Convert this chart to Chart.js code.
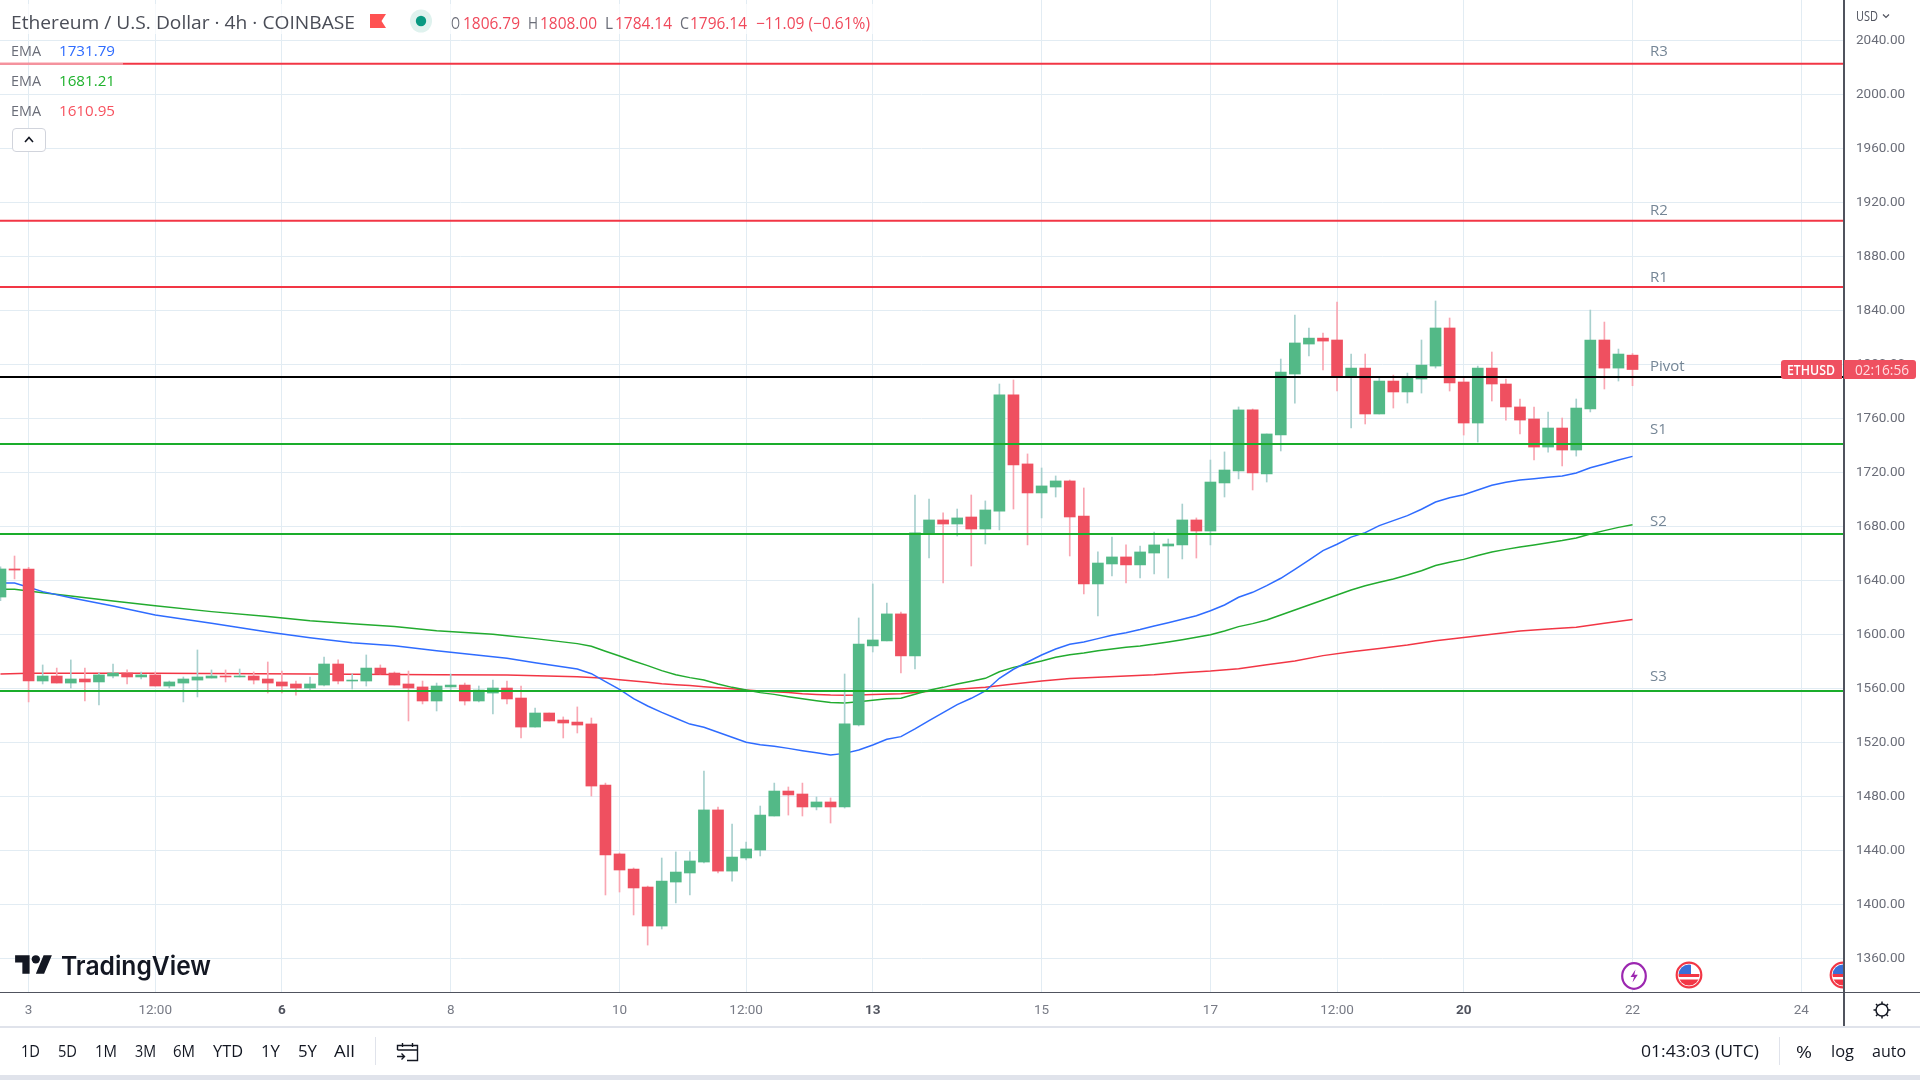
<!DOCTYPE html>
<html><head><meta charset="utf-8">
<title>Ethereum / U.S. Dollar 4h</title>
<script src="https://cdn.jsdelivr.net/npm/chart.js@4"></script>
<style>
html,body{margin:0;padding:0;background:#fff;width:1920px;height:1080px;overflow:hidden}
#c{position:absolute;left:0;top:0}
#ov{position:absolute;left:0;top:0;width:1920px;height:1080px;overflow:hidden;font-family:"Open Sans",sans-serif}
.t{position:absolute;white-space:pre;transform-origin:0 50%;line-height:1}
.b{position:absolute}
svg{position:absolute;overflow:hidden}
</style></head><body>
<canvas id="c" width="1920" height="1080"></canvas>
<div id="ov"></div>
<script>
const candleIndex=[-2,-1,0,1,2,3,4,5,6,7,8,9,10,11,12,13,14,15,16,17,18,19,20,21,22,23,24,25,26,27,28,29,30,31,32,33,34,35,36,37,38,39,40,41,42,43,44,45,46,47,48,49,50,51,52,53,54,55,56,57,58,59,60,61,62,63,64,65,66,67,68,69,70,71,72,73,74,75,76,77,78,79,80,81,82,83,84,85,86,87,88,89,90,91,92,93,94,95,96,97,98,99,100,101,102,103,104,105,106,107,108,109,110,111,112,113,114];
const open=[1627.6,1648.4,1648.4,1565.4,1569.1,1563.9,1566.9,1564.7,1569.1,1571.3,1568.4,1569.9,1561.7,1563.9,1566.1,1567.6,1569.1,1568.4,1569.1,1566.9,1564.7,1563.2,1560.2,1562.4,1578,1565.4,1565.4,1575,1571.3,1563.2,1561,1550.6,1561,1562.4,1550.6,1556.5,1560.2,1552.8,1531.3,1541.7,1536.5,1535,1533.6,1488.4,1437.3,1426.1,1412.8,1383.9,1416.5,1423.2,1431.3,1469.9,1424.6,1434.3,1440.2,1465.4,1483.9,1481.7,1472.1,1475.8,1472.1,1532.8,1591.4,1595.1,1615.1,1584,1675.1,1684.7,1681.7,1686.9,1678,1691.3,1777.3,1726.2,1704.7,1709.1,1713.6,1687.6,1637.3,1652.1,1657.3,1651.4,1660.2,1665.4,1666.2,1684.7,1676.5,1712.1,1721,1766.2,1718.8,1747.6,1792.8,1815,1819.4,1818,1791.3,1797.2,1763.2,1787.6,1779.5,1789.1,1798.7,1826.9,1786.9,1756.5,1797.2,1785.4,1768.4,1759.5,1738.7,1752.8,1736.5,1766.9,1818,1797.2,1806.79];
const high=[1650,1658,1649.6,1577.3,1575,1581,1575,1571.3,1578,1573.6,1572.1,1572.1,1565.4,1568.4,1588.4,1573.6,1573.6,1574.3,1572.1,1579.5,1572.8,1565.4,1568.4,1583.2,1581,1570.6,1584.7,1577.3,1572.1,1572.8,1565.4,1563.9,1570.6,1563.9,1561.7,1566.1,1565.4,1561.7,1545.4,1541.7,1538.8,1546.2,1538,1489.8,1438,1426.9,1413.5,1434.3,1438.8,1438.8,1498.7,1472.1,1459.5,1446.1,1472.8,1489.8,1486.9,1489.8,1479.5,1478.8,1570.6,1612.1,1637.3,1623.2,1616.5,1703.2,1700.2,1689.9,1692.8,1703.2,1698.8,1785.4,1788.4,1733.6,1723.2,1717.3,1714.3,1708.4,1661,1672.1,1666.2,1665.4,1675.8,1670.6,1696.5,1686.2,1729.1,1735.1,1768.4,1766.9,1748.4,1803.9,1836.5,1826.9,1823.1,1846.1,1807.6,1807.6,1789.9,1792,1793.5,1818,1846.9,1834.3,1789.9,1798.7,1809.1,1789.1,1774.3,1768.4,1764.7,1760.2,1774.3,1840.2,1831.3,1811.3,1808];
const low=[1625,1641,1549.9,1563.2,1563.9,1560.2,1550.6,1547.6,1567.6,1563.2,1566.9,1561.7,1560.2,1549.9,1553.6,1567.6,1564.7,1568.4,1563.2,1556.5,1556.5,1555,1558.7,1561.7,1563.2,1559.5,1561.7,1570.6,1562.4,1535.8,1548.4,1543.2,1558.7,1547.6,1549.9,1541,1548.4,1523.2,1531.3,1535.8,1523.2,1526.9,1480.2,1406.9,1409.1,1392.1,1369.8,1381.7,1401,1406.9,1430.6,1423.2,1417.2,1432.8,1435.8,1465.4,1466.1,1465.4,1469.9,1460.2,1471.3,1532.1,1586.9,1595.1,1571.4,1574.3,1656.5,1638,1672.8,1650.6,1666.9,1677.3,1692.8,1666.2,1686.2,1701.7,1658,1629.9,1613.6,1643.2,1638,1641.7,1644.7,1641.7,1655.8,1656.5,1666.2,1701.7,1715.1,1706.9,1712.8,1735.8,1771.3,1806.2,1795.8,1780.2,1752.8,1755.8,1763.2,1767.6,1771.3,1778.7,1797.2,1780.2,1747.6,1742.4,1772.8,1758.7,1748.4,1729.1,1735,1724.7,1732,1764.7,1781.7,1787.6,1784.14];
const close=[1648.4,1647.6,1565.4,1569.1,1563.9,1566.9,1564.7,1569.9,1571.3,1568.4,1569.9,1561.7,1564.7,1566.9,1568.4,1569.1,1568.4,1569.1,1566.1,1563.9,1561.7,1560.2,1563.2,1578,1565.4,1566.1,1575,1570.6,1562.4,1560.2,1550.6,1561.7,1562.4,1550.6,1558.7,1560.2,1552.1,1531.3,1541.7,1535.8,1534.3,1532.8,1487.6,1436.5,1425.4,1412.1,1383.9,1417.2,1423.9,1432.1,1469.9,1424.6,1435,1441,1466.1,1483.9,1481,1472.1,1475.8,1472.1,1533.6,1592.8,1595.8,1615.1,1584,1675.1,1684.7,1681.7,1686.2,1678,1692.1,1777.3,1725.4,1704.7,1709.9,1713.6,1686.9,1637.3,1652.8,1657.3,1651.4,1661,1666.2,1666.9,1684.7,1676.5,1712.8,1721.7,1766.2,1719.5,1748.4,1794.3,1815.8,1819.4,1817.2,1791.3,1797.2,1763.2,1787.6,1779.5,1789.9,1799.4,1826.9,1786.2,1756.5,1797.2,1785.4,1768.4,1758.7,1738.7,1752.8,1736.5,1767.6,1818,1797.2,1807.6,1796.14];

const emaBlueIndex=[-2,-1,0,1,3,6,9,13,17,20,23,26,29,33,34,36,39,40,41,42,43,44,45,46,47,48,49,50,51,52,53,54,55,56,57,58,59,60,61,62,63,64,65,66,67,68,69,70,71,72,73,74,75,76,77,78,79,80,81,82,83,84,85,86,87,88,89,90,91,92,93,94,95,96,97,98,99,100,101,102,103,104,105,106,107,108,109,110,111,112,113,114];
const emaBlue=[1638,1638,1634.8,1631.6,1627.1,1620.9,1614.3,1608.1,1601.7,1597.5,1593.8,1591.6,1587.9,1583.4,1582.2,1579,1574.3,1570.8,1564.9,1559.2,1552.3,1546.9,1542.2,1537.8,1533.5,1531.2,1527.4,1523.7,1520,1518.2,1517,1515.5,1513.8,1512.3,1510.6,1511.8,1514.3,1518,1522.2,1524.2,1529.9,1536,1542,1547.9,1552.6,1558,1567.4,1574.1,1579.5,1584.7,1589.1,1592.6,1594.3,1596.8,1599.3,1601.2,1603.5,1606.2,1608.6,1611.1,1613.8,1617.5,1621.7,1627.4,1631.1,1636,1641.5,1648.1,1655,1662,1666.7,1672,1675.3,1680.5,1684.2,1687.9,1692.6,1698,1701.2,1703.4,1706.9,1710.4,1712.6,1714.3,1715.3,1716.3,1717.3,1719.5,1723.4,1726.1,1729.1,1731.79];
const emaGreenIndex=[-2,-1,1,3,6,9,13,17,20,23,26,29,33,34,36,39,40,41,42,43,44,45,46,47,48,49,50,51,52,53,54,55,56,57,58,59,60,61,62,63,64,65,66,67,68,69,70,71,72,73,74,75,76,77,78,79,80,81,82,83,84,85,86,87,88,89,90,91,92,94,95,96,97,98,99,100,101,102,103,104,105,106,107,108,109,110,111,112,113,114];
const emaGreen=[1633.3,1633.3,1630.8,1628.4,1624.7,1621.2,1616.8,1613.1,1610.1,1607.9,1605.7,1602.7,1600,1599,1596.8,1593.1,1591.1,1587.4,1583.9,1580.2,1576.8,1573.1,1570.1,1567.9,1566.2,1563.2,1560.7,1558.7,1556.8,1555.5,1553.8,1552.3,1550.8,1549.4,1549.1,1550.1,1551.1,1552.3,1552.6,1555.6,1558.5,1560.7,1563.2,1565.2,1567.4,1572.3,1575.5,1577.8,1580.2,1583,1584.9,1586.2,1587.9,1589.1,1590.4,1591.4,1592.8,1594.3,1596,1597.8,1599.7,1602.5,1605.7,1607.9,1610.6,1614.3,1618,1621.7,1625.4,1632.8,1636,1638.5,1641,1643.9,1647.1,1650.9,1653.3,1655.5,1658.3,1661,1662.9,1664.7,1666.2,1667.9,1669.4,1671.3,1674.3,1676.8,1679.2,1681.21];
const emaRedIndex=[-2,0,9,20,29,34,39,41,42,43,44,45,46,47,48,49,50,51,52,53,54,55,56,57,58,59,60,62,64,66,68,70,72,74,76,78,80,82,84,86,88,90,92,94,96,98,100,102,104,106,108,110,112,114];
const emaRed=[1570.6,1571.1,1571.1,1570.6,1570.1,1569.9,1568.6,1567.4,1566.4,1565.4,1564.4,1563.4,1562.7,1562,1561.2,1560.5,1559.7,1558.7,1558,1557.5,1556.8,1556,1555.5,1555,1554.8,1555,1555.5,1556,1557.8,1559.3,1560.7,1563.2,1565.4,1567.2,1568.2,1569.1,1570.1,1571.6,1572.8,1574.5,1577.5,1580.3,1584.2,1587.1,1589.4,1592.1,1595.3,1597.7,1600,1602.4,1603.9,1605.2,1608.1,1610.95];

const levelNames=['R3','R2','R1','Pivot','S1','S2','S3'];
const levelValues=[2022.7,1906.4,1857.3,1790.6,1741,1674.3,1558];
const levelColors=['#f23645','#f23645','#f23645','#000000','#1aad2b','#1aad2b','#1aad2b'];
const priceTicks=[1360,1400,1440,1480,1520,1560,1600,1640,1680,1720,1760,1800,1840,1880,1920,1960,2000,2040];
const timeTickIndex=[0,9,18,30,42,51,60,72,84,93,102,114,126];
const timeTickLabels=['3','12:00','6','8','10','12:00','13','15','17','12:00','20','22','24'];
const boldTimeLabels=['6','13','20'];
const xMin=-2.033, xMax=128.96, yMin=1335.04, yMax=2069.85;

const UP='#53b987', DOWN='#ef5060', UPW='#a8d0ce', DOWNW='#f9a6b2';
const GRID='#e2ecf3', TICK_FONT='Roboto,sans-serif';
const isUp=i=>close[i]>=open[i];
const pairs=(xs,ys)=>xs.map((x,i)=>({x,y:ys[i]}));
const ema=(xs,ys,c)=>({type:'line',data:pairs(xs,ys),borderColor:c,borderWidth:1.5,pointRadius:0,tension:0,order:3});

const datasets=[
 {type:'bar',data:candleIndex.map((x,i)=>({x,y:[open[i],close[i]]})),backgroundColor:candleIndex.map((_,i)=>isUp(i)?UP:DOWN),barThickness:11,grouped:false,order:1,borderWidth:0},
 {type:'bar',data:candleIndex.map((x,i)=>({x,y:[low[i],high[i]]})),backgroundColor:candleIndex.map((_,i)=>isUp(i)?UPW:DOWNW),barThickness:1,grouped:false,order:2,borderWidth:0},
 ema(emaBlueIndex,emaBlue,'#2f6cff'),
 ema(emaGreenIndex,emaGreen,'#22ab2f'),
 ema(emaRedIndex,emaRed,'#f23645')
];
levelValues.forEach((v,i)=>datasets.push({type:'line',data:[{x:xMin,y:v},{x:xMax,y:v}],borderColor:levelColors[i],borderWidth:2,pointRadius:0,order:0}));

new Chart(document.getElementById('c'),{
 type:'bar',
 data:{datasets},
 options:{
  responsive:false,animation:false,devicePixelRatio:1,
  layout:{autoPadding:false,padding:{left:0,right:0,top:0,bottom:54}},
  plugins:{legend:{display:false},tooltip:{enabled:false},title:{display:false}},
  events:[],
  scales:{
   x:{type:'linear',min:xMin,max:xMax,offset:false,
    afterBuildTicks:s=>{s.ticks=timeTickIndex.map(value=>({value}))},
    afterFit:s=>{s.height=34;s.paddingLeft=0;s.paddingRight=0;s.paddingTop=0;s.paddingBottom=0},
    grid:{color:GRID,lineWidth:1,drawTicks:false,offset:false},border:{display:false},
    ticks:{autoSkip:false,maxRotation:0,minRotation:0,padding:11,
     callback:v=>timeTickLabels[timeTickIndex.indexOf(v)],
     font:c=>({family:TICK_FONT,size:13.5,weight:boldTimeLabels.includes(timeTickLabels[c.index])?'bold':'normal'}),
     color:c=>boldTimeLabels.includes(timeTickLabels[c.index])?'#50535e':'#787b86'}},
   y:{type:'linear',position:'right',min:yMin,max:yMax,
    afterBuildTicks:s=>{s.ticks=priceTicks.map(value=>({value}))},
    afterFit:s=>{s.width=77;s.paddingLeft=0;s.paddingRight=0;s.paddingTop=0;s.paddingBottom=0},
    grid:{color:GRID,lineWidth:1,drawTicks:false},border:{display:false},
    ticks:{padding:13,callback:v=>v.toFixed(2),font:{family:TICK_FONT,size:13.5},color:'#6a6d78'}}
  }
 }
});

/* overlays */
const ov=document.getElementById('ov');
function box(l,t,w,h,bg,extra){const d=document.createElement('div');d.className='b';d.style.cssText=`left:${l}px;top:${t}px;width:${w}px;height:${h}px;background:${bg};${extra||''}`;ov.appendChild(d);return d}
function txt(s,l,cy,w,size,color,weight,fam){const d=document.createElement('span');d.className='t';d.textContent=s;
 d.style.cssText=`left:${l}px;font-size:${size}px;color:${color};font-weight:${weight||400};${fam?'font-family:'+fam+';':''}`;ov.appendChild(d);
 const r=d.getBoundingClientRect();d.style.top=(cy-r.height/2)+'px';if(w)d.style.transform=`scaleX(${w/r.width})`;return d}
function svg(l,t,w,h,vb,inner){const n=document.createElement('div');n.innerHTML=`<svg xmlns="http://www.w3.org/2000/svg" style="left:${l}px;top:${t}px" width="${w}" height="${h}" viewBox="${vb}">${inner}</svg>`;ov.appendChild(n.firstChild)}

/* header backgrounds */
box(0,4,875,30,'rgba(255,255,255,.7)');
box(0,62.5,123,2.5,'#f4929e');

/* axis rules */
box(1843,0,1.5,1026,'#50535e');
box(0,991.5,1920,1.5,'#50535e');
box(0,1026,1920,1.5,'#e0e3eb');
box(0,1075,1920,5,'#e0e3eb');

/* title row */
const TITLE='#4a4d57', RED='#f0495b';
txt('Ethereum / U.S. Dollar · 4h · COINBASE',11,22,344,18,TITLE);
svg(370,14,16,14,'0 0 16 14','<path d="M0 0H16L11.5 7L16 14H0Z" fill="#ff5252"/>');
svg(410,9,22,24,'0 0 22 24','<ellipse cx="11" cy="12" rx="11" ry="11.5" fill="#dff2ee"/><circle cx="11" cy="12" r="5.2" fill="#089981"/>');
txt('O',451,23,9,16,'#6a6d78');txt('1806.79',463,23,57,16,RED);
txt('H',528,23,10,16,'#6a6d78');txt('1808.00',540,23,57,16,RED);
txt('L',605,23,8,16,'#6a6d78');txt('1784.14',615,23,57,16,RED);
txt('C',680,23,9,16,'#6a6d78');txt('1796.14',690,23,57,16,RED);
txt('−11.09 (−0.61%)',756,23,114,16,RED);

/* legend rows */
[['1731.79','#2f6cff',50.7],['1681.21','#1fb22d',80.7],['1610.95','#f7525f',110.7]].forEach(r=>{
 txt('EMA',11,r[2],30,15,'#6a6d78');txt(r[0],59,r[2],56,15,r[1]);});
box(11.5,128,34,24,'#fff','border:1px solid #d1d4dc;border-radius:4px;box-sizing:border-box');
svg(24,136,10,7,'0 0 10 7','<path d="M1 6L5 1.5L9 6" fill="none" stroke="#131722" stroke-width="1.6"/>');

/* level labels */
[[50.7,0],[209,1],[276.7,2],[365.7,3],[428,4],[520.7,5],[675,6]].forEach(r=>txt(levelNames[r[1]],1650,r[0],null,15,'#758696'));

/* price tag */
box(1781,360,61,19,DOWN,'border-radius:3px 0 0 3px');
box(1843.5,360,72.5,19,DOWN,'border-radius:0 3px 3px 0');
txt('ETHUSD',1787,369.7,48,14,'#fff',600);
txt('02:16:56',1855,369.7,54,14,'#ffdbe0');

/* USD selector */
txt('USD',1856,16,22,14,'#50535e');
svg(1882,13,8,6,'0 0 8 6','<path d="M1 1.5L4 4.5L7 1.5" fill="none" stroke="#50535e" stroke-width="1.2"/>');

/* TradingView logo */
svg(15,951,37.5,29,'0 0 36 28','<path d="M14 22H7V11H0V4h14v18zM28 22h-8l7.5-18h8L28 22z" fill="#131722"/><circle cx="20" cy="8" r="4" fill="#131722"/>');
txt('TradingView',61,966,150,26,'#131722',600,'Inter,"Open Sans",sans-serif');

/* event icons */
const flag=(id,cx)=>`<defs><clipPath id="${id}"><circle cx="${cx}" cy="14" r="10.5"/></clipPath></defs>
<circle cx="${cx}" cy="14" r="12.3" fill="#fff" stroke="#f23645" stroke-width="2.2"/>
<g clip-path="url(#${id})"><rect x="${cx-11}" y="3" width="22" height="22" fill="#fff"/>
<rect x="${cx-11}" y="13" width="22" height="3" fill="#f23645"/><rect x="${cx-11}" y="18.5" width="22" height="7" fill="#f23645"/>
<rect x="${cx-11}" y="3" width="13" height="10" fill="#3a6fd8"/></g>`;
svg(1620,961,28,30,'0 0 28 30','<ellipse cx="14" cy="15" rx="11.8" ry="12.8" fill="#fff" stroke="#9c27b0" stroke-width="2.2"/><path d="M15.5 8.5L10.5 16H14L12.5 21.5L17.8 13.8H14.3Z" fill="#9c27b0"/>');
svg(1675,961,28,28,'0 0 28 28',flag('f1',14));
svg(1829,961,14,28,'0 0 14 28',flag('f2',14));

/* gear */
svg(1872,1000,20,20,'0 0 20 20','<circle cx="10" cy="10" r="6" fill="none" stroke="#131722" stroke-width="1.5"/><path d="M10 1.5V4M10 16V18.5M1.5 10H4M16 10H18.5M4 4L5.7 5.7M14.3 14.3L16 16M4 16L5.7 14.3M14.3 5.7L16 4" stroke="#131722" stroke-width="1.5"/>');

/* bottom toolbar */
[['1D',21,19],['5D',58,19],['1M',95,22],['3M',135,21],['6M',173,22],['YTD',213,30],['1Y',261,19],['5Y',298,19],['All',334,21]].forEach(r=>txt(r[0],r[1],1051,r[2],16,'#131722'));
box(375,1037,1,28,'#e0e3eb');
svg(396,1041,23,21,'0 0 23 21','<path d="M1.5 9V4.5H21.5V19.5H11M1.5 9H21.5M6.5 2V6M16.5 2V6M1 15.5H8M5.5 12.5L8.5 15.5L5.5 18.5" fill="none" stroke="#131722" stroke-width="1.4"/>');
txt('01:43:03 (UTC)',1641,1051,118,16,'#131722');
box(1779,1037,1,28,'#e0e3eb');
txt('%',1796,1051,16,17,'#131722');
txt('log',1831,1051,23,16,'#131722');
txt('auto',1872,1051,34,16,'#131722');
</script>
</body></html>
